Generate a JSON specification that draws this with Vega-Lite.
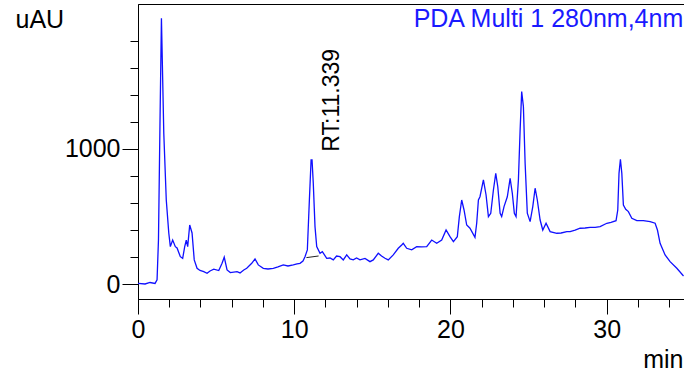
{
  "$schema": "https://vega.github.io/schema/vega-lite/v6.json",
  "autosize": {"type": "none"},
  "padding": {"left": 138, "top": 4, "right": 0, "bottom": 73},
  "width": 546,
  "height": 295,
  "background": "white",
  "config": {
    "view": {"stroke": "black", "strokeWidth": 1},
    "font": "Liberation Sans",
    "axis": {
      "domainColor": "black",
      "tickColor": "black",
      "labelColor": "black",
      "titleColor": "black",
      "labelFont": "Liberation Sans",
      "titleFont": "Liberation Sans",
      "labelFontSize": 25,
      "titleFontSize": 25,
      "titleFontWeight": "normal",
      "grid": false
    }
  },
  "datasets": {
    "trace": [
      {"t": 0, "v": 7}, {"t": 0.45, "v": 2}, {"t": 0.77, "v": 13}, {"t": 1.09, "v": 6}, {"t": 1.22, "v": 32},
      {"t": 1.31, "v": 327}, {"t": 1.41, "v": 1214}, {"t": 1.5, "v": 1966}, {"t": 1.65, "v": 1118}, {"t": 1.81, "v": 623},
      {"t": 1.97, "v": 379}, {"t": 2.07, "v": 278}, {"t": 2.22, "v": 327}, {"t": 2.39, "v": 278}, {"t": 2.5, "v": 268},
      {"t": 2.71, "v": 204}, {"t": 2.86, "v": 192}, {"t": 2.99, "v": 278}, {"t": 3.09, "v": 327}, {"t": 3.18, "v": 278},
      {"t": 3.31, "v": 438}, {"t": 3.46, "v": 379}, {"t": 3.6, "v": 180}, {"t": 3.78, "v": 118}, {"t": 3.97, "v": 102},
      {"t": 4.21, "v": 93}, {"t": 4.42, "v": 81}, {"t": 4.61, "v": 98}, {"t": 4.85, "v": 111}, {"t": 5.17, "v": 101},
      {"t": 5.38, "v": 155}, {"t": 5.52, "v": 200}, {"t": 5.7, "v": 106}, {"t": 5.91, "v": 86}, {"t": 6.34, "v": 93},
      {"t": 6.53, "v": 84}, {"t": 6.77, "v": 106}, {"t": 6.96, "v": 118}, {"t": 7.28, "v": 155}, {"t": 7.49, "v": 187},
      {"t": 7.7, "v": 143}, {"t": 8.02, "v": 118}, {"t": 8.32, "v": 113}, {"t": 8.66, "v": 118}, {"t": 8.96, "v": 128},
      {"t": 9.3, "v": 143}, {"t": 9.6, "v": 135}, {"t": 9.94, "v": 143}, {"t": 10.18, "v": 150}, {"t": 10.37, "v": 155},
      {"t": 10.56, "v": 172}, {"t": 10.69, "v": 204}, {"t": 10.84, "v": 254}, {"t": 10.97, "v": 623}, {"t": 11.08, "v": 919},
      {"t": 11.14, "v": 919}, {"t": 11.22, "v": 746}, {"t": 11.33, "v": 426}, {"t": 11.44, "v": 278}, {"t": 11.65, "v": 229},
      {"t": 11.8, "v": 241}, {"t": 12.08, "v": 192}, {"t": 12.29, "v": 194}, {"t": 12.5, "v": 180}, {"t": 12.71, "v": 209},
      {"t": 12.93, "v": 204}, {"t": 13.14, "v": 180}, {"t": 13.36, "v": 217}, {"t": 13.57, "v": 187}, {"t": 13.78, "v": 180},
      {"t": 13.99, "v": 194}, {"t": 14.21, "v": 180}, {"t": 14.53, "v": 191}, {"t": 14.85, "v": 167}, {"t": 15.06, "v": 180},
      {"t": 15.38, "v": 229}, {"t": 15.59, "v": 209}, {"t": 15.81, "v": 192}, {"t": 16.02, "v": 180}, {"t": 16.34, "v": 217},
      {"t": 16.66, "v": 266}, {"t": 16.88, "v": 290}, {"t": 16.98, "v": 303}, {"t": 17.2, "v": 266}, {"t": 17.52, "v": 254},
      {"t": 17.84, "v": 278}, {"t": 18.15, "v": 276}, {"t": 18.48, "v": 278}, {"t": 18.8, "v": 327}, {"t": 19.12, "v": 303},
      {"t": 19.44, "v": 327}, {"t": 19.72, "v": 401}, {"t": 19.97, "v": 352}, {"t": 20.19, "v": 315}, {"t": 20.44, "v": 352},
      {"t": 20.57, "v": 500}, {"t": 20.72, "v": 623}, {"t": 20.87, "v": 549}, {"t": 21.04, "v": 438}, {"t": 21.25, "v": 414},
      {"t": 21.57, "v": 347}, {"t": 21.68, "v": 451}, {"t": 21.79, "v": 623}, {"t": 21.89, "v": 647}, {"t": 22.11, "v": 771},
      {"t": 22.28, "v": 660}, {"t": 22.43, "v": 500}, {"t": 22.58, "v": 525}, {"t": 22.75, "v": 697}, {"t": 22.9, "v": 820},
      {"t": 23.03, "v": 721}, {"t": 23.18, "v": 525}, {"t": 23.28, "v": 500}, {"t": 23.43, "v": 574}, {"t": 23.64, "v": 647},
      {"t": 23.82, "v": 783}, {"t": 23.96, "v": 673}, {"t": 24.09, "v": 525}, {"t": 24.2, "v": 500}, {"t": 24.35, "v": 771},
      {"t": 24.46, "v": 1140}, {"t": 24.56, "v": 1424}, {"t": 24.67, "v": 1313}, {"t": 24.78, "v": 894}, {"t": 24.92, "v": 525},
      {"t": 25.1, "v": 463}, {"t": 25.27, "v": 574}, {"t": 25.42, "v": 710}, {"t": 25.56, "v": 623}, {"t": 25.74, "v": 475},
      {"t": 25.91, "v": 401}, {"t": 26.12, "v": 451}, {"t": 26.38, "v": 389}, {"t": 26.81, "v": 377}, {"t": 27.08, "v": 379},
      {"t": 27.45, "v": 389}, {"t": 27.66, "v": 389}, {"t": 27.98, "v": 401}, {"t": 28.3, "v": 414}, {"t": 28.62, "v": 416},
      {"t": 28.94, "v": 421}, {"t": 29.26, "v": 420}, {"t": 29.58, "v": 426}, {"t": 30.01, "v": 451}, {"t": 30.28, "v": 457},
      {"t": 30.6, "v": 470}, {"t": 30.71, "v": 549}, {"t": 30.79, "v": 820}, {"t": 30.88, "v": 924}, {"t": 30.97, "v": 820},
      {"t": 31.07, "v": 586}, {"t": 31.22, "v": 554}, {"t": 31.39, "v": 537}, {"t": 31.61, "v": 488}, {"t": 31.93, "v": 470},
      {"t": 32.35, "v": 470}, {"t": 32.78, "v": 463}, {"t": 33.1, "v": 451}, {"t": 33.25, "v": 401}, {"t": 33.42, "v": 303},
      {"t": 33.74, "v": 217}, {"t": 34.06, "v": 167}, {"t": 34.49, "v": 118}, {"t": 34.92, "v": 61}
    ],
    "baseline": [
      {"t": 10.78, "v": 197}, {"t": 11.56, "v": 209}
    ],
    "labels": [
      {"t": 12.86, "v": 980, "label": "RT:11.339", "kind": "rt"},
      {"t": 34.9, "v": 1904, "label": "PDA Multi 1 280nm,4nm", "kind": "title"}
    ]
  },
  "encoding": {
    "x": {
      "field": "t", "type": "quantitative",
      "scale": {"domain": [0, 34.95], "nice": false, "zero": false},
      "axis": {
        "title": "min",
        "values": [0, 2, 4, 6, 8, 10, 12, 14, 16, 18, 20, 22, 24, 26, 28, 30, 32, 34],
        "labelExpr": "datum.value % 10 === 0 ? datum.label : ''",
        "tickSize": {"condition": {"test": "datum.value % 10 === 0", "value": 15}, "value": 8},
        "labelPadding": 3,
        "labelFlush": false,
        "labelOverlap": false,
        "titleAnchor": "end",
        "titleAlign": "right",
        "titleBaseline": "alphabetic",
        "titleX": 545,
        "titleY": 68
      }
    },
    "y": {
      "field": "v", "type": "quantitative",
      "scale": {"domain": [-109, 2072], "nice": false, "zero": false},
      "axis": {
        "title": "uAU",
        "values": [0, 200, 400, 600, 800, 1000, 1200, 1400, 1600, 1800],
        "labelExpr": "datum.value % 1000 === 0 ? datum.label : ''",
        "format": "d",
        "tickSize": {"condition": {"test": "datum.value % 1000 === 0", "value": 16}, "value": 8},
        "labelPadding": 2,
        "labelFlush": false,
        "labelOverlap": false,
        "titleAngle": 0,
        "titleAlign": "left",
        "titleBaseline": "alphabetic",
        "titleX": -123,
        "titleY": 23
      }
    }
  },
  "layer": [
    {
      "data": {"name": "trace"},
      "mark": {"type": "line", "color": "#1010ff", "strokeWidth": 1.3, "clip": true}
    },
    {
      "data": {"name": "baseline"},
      "mark": {"type": "line", "color": "#222222", "strokeWidth": 1, "clip": true}
    },
    {
      "data": {"name": "labels"},
      "transform": [{"filter": "datum.kind === 'rt'"}],
      "mark": {"type": "text", "angle": 270, "align": "left", "baseline": "alphabetic", "fontSize": 23, "font": "Liberation Sans", "color": "black"},
      "encoding": {"text": {"field": "label"}}
    },
    {
      "data": {"name": "labels"},
      "transform": [{"filter": "datum.kind === 'title'"}],
      "mark": {"type": "text", "align": "right", "baseline": "alphabetic", "fontSize": 25, "font": "Liberation Sans", "color": "#1a1aff"},
      "encoding": {"text": {"field": "label"}}
    }
  ]
}
